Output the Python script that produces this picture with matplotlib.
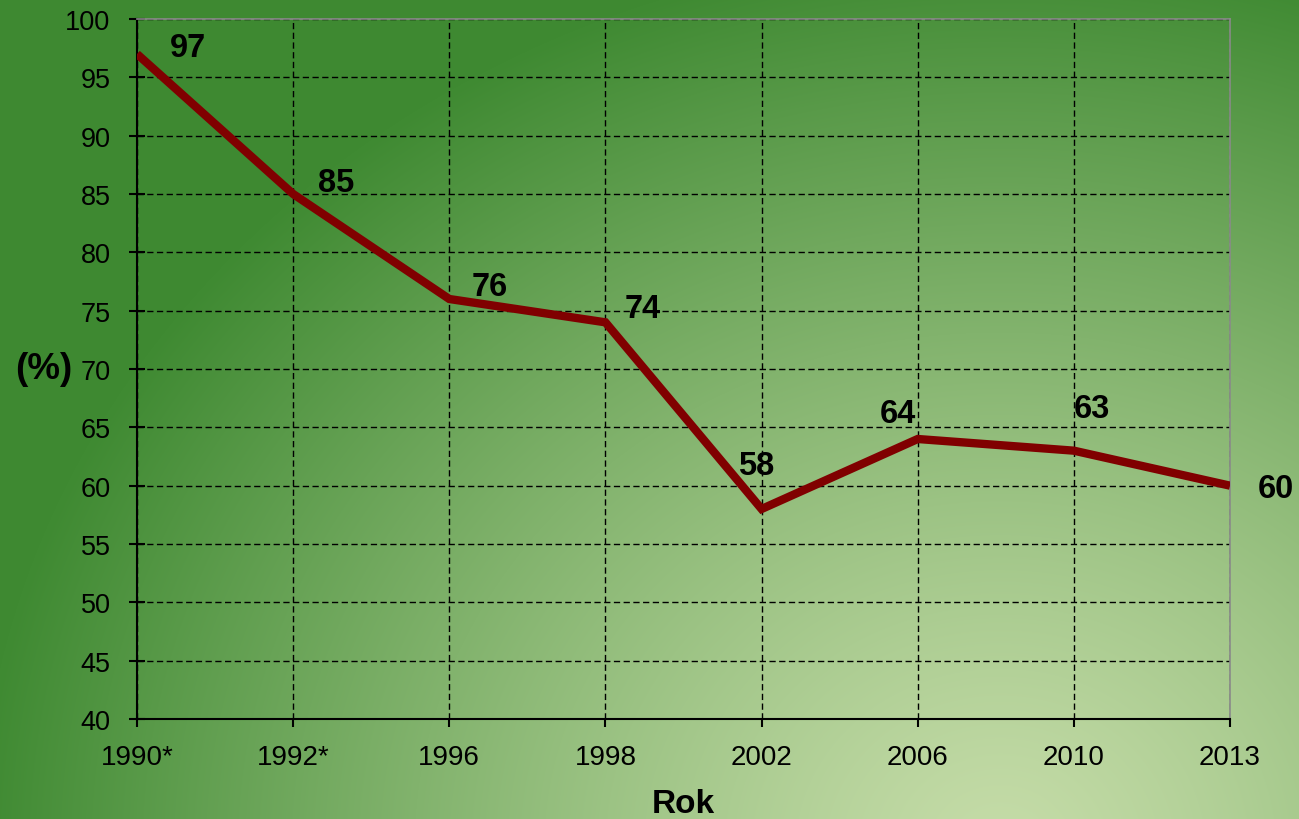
import matplotlib.pyplot as plt
import numpy as np

# ---- Data ----
years = ["1990*", "1992*", "1996", "1998", "2002", "2006", "2010", "2013"]
values = [97, 85, 76, 74, 58, 64, 63, 60]
# label offsets (points) relative to each point
label_dx = [37, 31, 29, 27, -4, -14, 13, 33]
label_dy = [5, 8, 9, 10, 31, 18, 30, -2]

plt.rcParams['font.family'] = ['Liberation Sans', 'DejaVu Sans']

fig = plt.figure(figsize=(12.99, 8.2), dpi=100)

# ---- Gradient background ----
bg = fig.add_axes([0, 0, 1, 1], zorder=-10)
h, w = 820, 1299
yy, xx = np.mgrid[0:h, 0:w]
t = np.sqrt(((xx - 1000) / 1020.0) ** 2 + ((yy - 850) / 900.0) ** 2)
t = np.clip(t, 0, 1) ** 1.25
light = np.array([197, 220, 168]) / 255.0
dark = np.array([63, 138, 50]) / 255.0
img = light[None, None, :] * (1 - t[..., None]) + dark[None, None, :] * t[..., None]
bg.imshow(img, aspect='auto', extent=(0, 1, 0, 1), origin='upper')
bg.axis('off')

# ---- Main axes ----
ax = fig.add_axes([137 / 1299, 100 / 820, 1093 / 1299, 700 / 820])
ax.set_facecolor('none')

x = np.arange(len(years))
ax.plot(x, values, color='#800000', linewidth=6, solid_capstyle='butt',
        solid_joinstyle='miter', zorder=3)

for xi, v, dx, dy in zip(x, values, label_dx, label_dy):
    ax.annotate(str(v), (xi, v), xytext=(dx, dy), textcoords='offset points',
                ha='center', va='center', fontsize=23.5, fontweight='bold',
                color='black', zorder=4)

ax.set_xlim(0, len(years) - 1)
ax.set_ylim(40, 100)
ax.set_xticks(x)
ax.set_xticklabels(years)
ax.set_yticks(np.arange(40, 101, 5))

# ---- Grid ----
ax.grid(True, color='black', linestyle=(0, (4.5, 2.5)), linewidth=1.0, zorder=1)

# ---- Spines ----
ax.spines['left'].set_color('black')
ax.spines['bottom'].set_color('black')
ax.spines['left'].set_linewidth(1.5)
ax.spines['bottom'].set_linewidth(1.5)
ax.spines['top'].set_color('#8a8a8a')
ax.spines['right'].set_color('#8a8a8a')
ax.spines['top'].set_linewidth(1.2)
ax.spines['right'].set_linewidth(1.2)

# ---- Ticks ----
ax.tick_params(axis='y', direction='inout', length=12, width=1.5, pad=13,
               labelsize=19.5)
ax.tick_params(axis='x', direction='out', length=6, width=1.5, pad=12,
               labelsize=20)

# ---- Labels ----
ax.set_ylabel("(%)", fontsize=26.5, fontweight='bold', rotation=0,
              ha='center', va='center')
ax.yaxis.set_label_coords(-0.0855, 0.5)
ax.set_xlabel("Rok", fontsize=24, fontweight='bold', va='center')
ax.xaxis.set_label_coords(0.5, -0.121)

plt.savefig("out.png", dpi=100)
